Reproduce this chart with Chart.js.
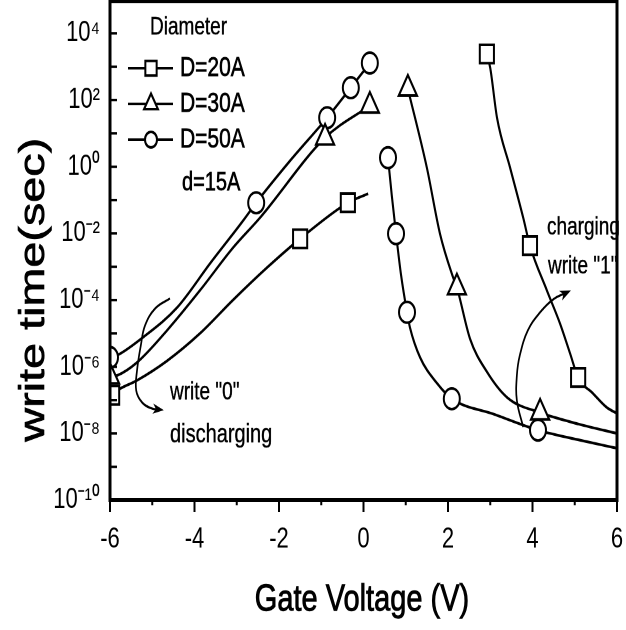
<!DOCTYPE html>
<html>
<head>
<meta charset="utf-8">
<script src="https://cdn.jsdelivr.net/npm/chart.js@4/dist/chart.umd.min.js"></script>
<style>
  html { overflow: hidden; }
  body { margin: 0; padding: 0; background: #fff; width: 626px; height: 630px; }
  /* the scanned figure is stretched vertically, so draw flat and stretch */
  #wrap { width: 626px; height: 485px; transform: scaleY(1.299); transform-origin: 0 0; }
</style>
</head>
<body>
<div id="wrap"><canvas id="c" width="626" height="485"></canvas></div>
<script>
// axis ticks
const xTickValues = [-6, -5, -4, -3, -2, -1, 0, 1, 2, 3, 4, 5, 6];
const xTickLabels = ['-6', '', '-4', '', '-2', '', '0', '', '2', '', '4', '', '6'];
const yTickExponents = [-10, -9, -8, -7, -6, -5, -4, -3, -2, -1, 0, 1, 2, 3, 4, 5];
const yTickLabels = ['10⁻¹⁰', '', '10⁻⁸', '', '10⁻⁶', '', '10⁻⁴', '', '10⁻²', '', '10⁰', '', '10²', '', '10⁴', ''];

// curves [gate voltage V, write time s]
const d20Discharge = [[-6, 1.4e-7], [-5.76, 2.2e-7], [-5.36, 3.9e-7], [-4.65, 1.5e-6], [-3.87, 1.0e-5], [-3.09, 1.0e-4], [-2.28, 9.5e-4], [-1.5, 6.9e-3], [-0.37, 8.3e-2], [0.11, 0.155]];
const d20Charge = [[2.92, 2400], [3.0, 912], [3.16, 29.5], [3.47, 0.93], [3.78, 0.0295], [3.94, 4.3e-3], [4.34, 1.95e-4], [4.65, 2e-5], [4.89, 2.5e-6], [5.08, 4.8e-7], [5.43, 1.6e-7], [5.76, 6e-8], [6, 4e-8]];
const d30Discharge = [[-6, 5.1e-7], [-5.83, 5.5e-7], [-5.36, 1.35e-6], [-4.65, 1.23e-5], [-3.87, 1.95e-4], [-3.09, 3.7e-3], [-2.45, 2.95e-2], [-0.91, 7.4], [0.15, 67.6]];
const d30Charge = [[1.05, 219], [1.5, 0.93], [1.81, 9.8e-3], [2.12, 4.8e-4], [2.21, 2.4e-4], [2.52, 7e-6], [2.92, 7.1e-7], [3.4, 1.2e-7], [4.18, 4.2e-8], [5.1, 1.9e-8], [6, 1e-8]];
const d50Discharge = [[-6, 1.9e-6], [-5.83, 2.2e-6], [-5.22, 7.6e-6], [-4.41, 6.0e-5], [-3.63, 1.26e-3], [-2.85, 2.4e-2], [-2.54, 8.3e-2], [-1.74, 1.5], [-0.86, 29.5], [-0.3, 234], [0.15, 1290]];
const d50Charge = [[0.58, 1.86], [0.67, 0.135], [0.77, 9.8e-3], [0.89, 5.5e-4], [1.03, 4.3e-5], [1.1, 1.5e-5], [1.34, 1.9e-6], [1.74, 3.2e-7], [2.09, 1.1e-7], [3.11, 3.7e-8], [4.13, 1.26e-8], [5.12, 6.3e-9], [6, 3.6e-9]];

// marker positions
const d20Marks = [[-5.95, 1.4e-7], [-1.5, 6.9e-3], [-0.37, 8.3e-2], [2.92, 2400], [3.94, 4.3e-3], [5.08, 4.8e-7]];
const d30Marks = [[-6, 5.1e-7], [-0.91, 7.4], [0.15, 67.6], [1.05, 219], [2.21, 2.4e-4], [4.18, 4.2e-8]];
const d50Marks = [[-6, 1.9e-6], [-2.54, 8.3e-2], [-0.86, 29.5], [-0.3, 234], [0.15, 1290], [0.58, 1.86], [0.77, 9.8e-3], [1.03, 4.3e-5], [2.09, 1.1e-7], [4.13, 1.26e-8]];

// annotation arrows
const write0Arrow = [[-4.58, 1.12e-4], [-4.93, 5.6e-5], [-5.17, 1.74e-5], [-5.27, 4.4e-6], [-5.36, 7.8e-7], [-5.38, 1.95e-7], [-5.24, 8.5e-8], [-5.01, 5.6e-8], [-4.82, 5.2e-8]];
const write1Arrow = [[3.78, 1.55e-8], [3.63, 9.8e-8], [3.63, 5.5e-7], [3.70, 2.2e-6], [3.89, 1.23e-5], [4.18, 4.3e-5], [4.49, 1.05e-4], [4.82, 1.7e-4]];

const legendItems = [
  { label: 'D=20A', style: 'rect', r: 8 },
  { label: 'D=30A', style: 'triangle', r: 8 },
  { label: 'D=50A', style: 'circle', r: 6 }
];

Chart.defaults.font.family = "'Liberation Sans', Arial, sans-serif";
Chart.defaults.color = '#000';

function curve(data) {
  return { data: data, borderColor: '#000', borderWidth: 2.1, pointRadius: 0,
    cubicInterpolationMode: 'monotone', order: 2 };
}
function marks(data, style, r) {
  return { data: data, showLine: false, pointStyle: style, pointRadius: r,
    pointBackgroundColor: '#fff', pointBorderColor: '#000', pointBorderWidth: 2, order: 0 };
}
function arrow(data) {
  return { data: data, borderColor: '#000', borderWidth: 1.7, pointRadius: 0, tension: 0.4, order: 1, isArrow: true };
}

// slightly heavier text, like the scanned print
function text(ctx, str, x, y, size, weight) {
  ctx.font = size + "px 'Liberation Sans', Arial, sans-serif";
  ctx.lineWidth = weight || 0.5;
  ctx.fillText(str, x, y);
  ctx.strokeText(str, x, y);
}

const decorations = {
  id: 'decorations',
  afterDatasetsDraw(chart) {
    const ctx = chart.ctx;
    const a = chart.chartArea;
    const xs = chart.scales.x, ys = chart.scales.y;
    ctx.save();
    ctx.strokeStyle = '#000';
    ctx.fillStyle = '#000';

    // frame
    ctx.lineWidth = 3;
    ctx.strokeRect(a.left, a.top + 1, a.right - a.left, a.bottom - a.top - 1);

    // inward ticks on y, outward on x
    ctx.lineWidth = 2;
    ctx.beginPath();
    yTickExponents.forEach(e => {
      const y = ys.getPixelForValue(Math.pow(10, e));
      ctx.moveTo(a.left, y);
      ctx.lineTo(a.left + 7, y);
    });
    xTickValues.forEach((v, i) => {
      const x = xs.getPixelForValue(v);
      ctx.moveTo(x, a.bottom);
      ctx.lineTo(x, a.bottom + (xTickLabels[i] ? 9 : 4));
    });
    ctx.stroke();

    // arrow heads
    chart.data.datasets.forEach((ds, i) => {
      if (!ds.isArrow) return;
      const pts = chart.getDatasetMeta(i).data;
      const p1 = pts[pts.length - 1], p0 = pts[pts.length - 2];
      const ang = Math.atan2(p1.y - p0.y, p1.x - p0.x);
      ctx.save();
      ctx.translate(p1.x, p1.y);
      ctx.rotate(ang);
      ctx.beginPath();
      ctx.moveTo(4, 0);
      ctx.lineTo(-7, -4);
      ctx.lineTo(-4, 0);
      ctx.lineTo(-7, 4);
      ctx.closePath();
      ctx.fill();
      ctx.restore();
    });

    // legend
    ctx.textBaseline = 'middle';
    ctx.textAlign = 'left';
    text(ctx, 'Diameter', 150, 21.5, 19, 0.3);
    legendItems.forEach((it, i) => {
      const y = 52.5 + i * 27.5;
      ctx.lineWidth = 2;
      ctx.beginPath();
      ctx.moveTo(128, y);
      ctx.lineTo(173, y);
      ctx.stroke();
      ctx.fillStyle = '#fff';
      if (Chart.helpers && Chart.helpers.drawPoint) {
        Chart.helpers.drawPoint(ctx, { pointStyle: it.style, radius: it.r, borderWidth: 2, rotation: 0 }, 151, y);
      }
      ctx.fillStyle = '#000';
      text(ctx, it.label, 180, y, 21);
    });
    text(ctx, 'd=15A', 182, 141, 20);

    // annotations
    text(ctx, 'write "0"', 170, 302.5, 19, 0.3);
    text(ctx, 'discharging', 170, 335, 20, 0.3);
    text(ctx, 'charging', 547, 175.5, 19, 0.3);
    text(ctx, 'write "1"', 548, 205.5, 19, 0.3);

    // axis titles
    ctx.textAlign = 'center';
    text(ctx, 'Gate Voltage (V)', 362, 462, 29, 0.7);
    ctx.translate(34, 223);
    ctx.rotate(-Math.PI / 2);
    text(ctx, 'write time(sec)', 0, 0, 36, 0.6);
    ctx.restore();
  }
};

new Chart(document.getElementById('c'), {
  type: 'line',
  data: {
    datasets: [
      marks(d20Marks, 'rect', 10),
      marks(d30Marks, 'triangle', 10.5),
      marks(d50Marks, 'circle', 8),
      curve(d20Discharge), curve(d20Charge),
      curve(d30Discharge), curve(d30Charge),
      curve(d50Discharge), curve(d50Charge),
      arrow(write0Arrow), arrow(write1Arrow)
    ]
  },
  options: {
    responsive: false,
    animation: false,
    devicePixelRatio: 2,
    events: [],
    layout: { autoPadding: false, padding: { top: 0, right: 9, left: 0, bottom: 0 } },
    plugins: { legend: { display: false }, tooltip: { enabled: false } },
    scales: {
      x: {
        type: 'linear', min: -6, max: 6,
        afterBuildTicks: s => { s.ticks = xTickValues.map(v => ({ value: v })); },
        afterFit: s => { s.height = 100; s.paddingLeft = 0; s.paddingRight = 0; },
        grid: { display: false, drawTicks: false },
        border: { display: false },
        ticks: { autoSkip: false, maxRotation: 0, padding: 17, font: { size: 22 },
          callback: (v, i) => xTickLabels[i] }
      },
      y: {
        type: 'logarithmic', min: 1e-10, max: 1e5,
        afterBuildTicks: s => { s.ticks = yTickExponents.map(e => ({ value: Math.pow(10, e) })); },
        afterFit: s => { s.width = 110; s.paddingTop = 0; s.paddingBottom = 0; },
        grid: { display: false, drawTicks: false },
        border: { display: false },
        ticks: { autoSkip: false, padding: 10, font: { size: 22 },
          callback: (v, i) => yTickLabels[i] }
      }
    }
  },
  plugins: [decorations]
});
</script>
</body>
</html>
